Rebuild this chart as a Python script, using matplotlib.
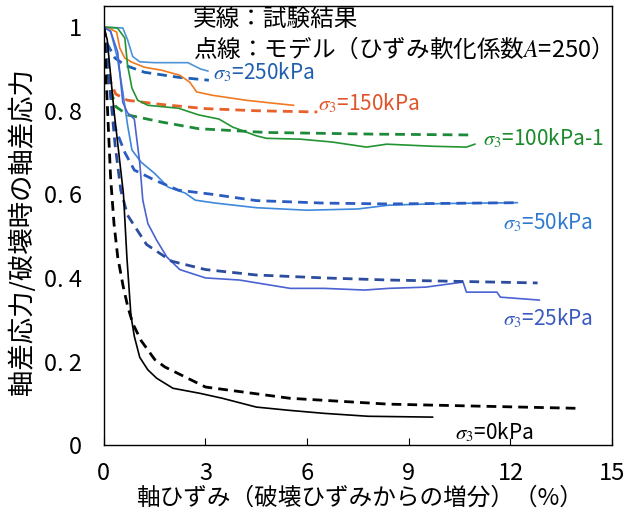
import numpy as np
import matplotlib
matplotlib.use("Agg")
import matplotlib.pyplot as plt

plt.rcParams['font.family'] = ['Noto Sans CJK JP', 'DejaVu Sans']
plt.rcParams['mathtext.fontset'] = 'stix'

# %% data (axial strain %, normalised deviator stress)
x0_test = [0, 0.1, 0.3, 0.58, 0.68, 0.8, 0.9, 1.06, 1.3, 1.56, 2.04, 2.83, 3.5, 4.5, 5.5, 6.5, 7.8, 9.7]
y0_test = [1.0, 0.97, 0.80, 0.60, 0.45, 0.31, 0.26, 0.21, 0.18, 0.16, 0.136, 0.124, 0.112, 0.091, 0.083, 0.076, 0.069, 0.067]
x0_model = [0, 0.1, 0.2, 0.3, 0.41, 0.57, 0.71, 0.86, 1.1, 1.5, 1.8, 3.0, 5.5, 8.4, 14.0]
y0_model = [1.0, 0.82, 0.64, 0.53, 0.45, 0.38, 0.33, 0.29, 0.25, 0.205, 0.187, 0.139, 0.112, 0.098, 0.088]

x25_test = [0, 0.2, 0.41, 0.56, 0.7, 0.9, 1.06, 1.15, 1.3, 1.56, 1.86, 2.24, 3.0, 4.0, 5.5, 6.5, 7.7, 8.4, 9.5, 10.6, 10.7, 11.6, 11.7, 12.85]
y25_test = [1.0, 0.99, 0.94, 0.82, 0.795, 0.78, 0.675, 0.586, 0.53, 0.49, 0.45, 0.42, 0.40, 0.395, 0.375, 0.375, 0.371, 0.375, 0.378, 0.39, 0.366, 0.366, 0.354, 0.347]
x25_model = [0, 0.15, 0.33, 0.5, 0.7, 0.86, 1.26, 2.0, 3.0, 4.5, 6.5, 8.4, 12.8]
y25_model = [1.0, 0.88, 0.72, 0.61, 0.55, 0.53, 0.48, 0.44, 0.42, 0.407, 0.40, 0.395, 0.388]

x50_test = [0, 0.2, 0.4, 0.56, 0.7, 0.83, 1.1, 1.5, 1.9, 2.4, 2.7, 3.3, 4.5, 6.0, 7.5, 8.4, 10.0, 12.2]
y50_test = [1.0, 0.99, 0.926, 0.845, 0.766, 0.706, 0.677, 0.65, 0.617, 0.603, 0.586, 0.579, 0.568, 0.562, 0.565, 0.574, 0.578, 0.58]
x50_model = [0, 0.1, 0.2, 0.33, 0.62, 0.9, 1.5, 2.2, 3.2, 4.5, 6.5, 8.4, 12.2]
y50_model = [1.0, 0.93, 0.84, 0.76, 0.70, 0.658, 0.634, 0.61, 0.60, 0.585, 0.579, 0.577, 0.58]

x100_test = [0, 0.4, 0.62, 0.7, 0.83, 1.0, 1.3, 2.2, 2.8, 3.4, 3.8, 4.5, 4.8, 5.8, 6.75, 7.75, 8.35, 9.7, 10.7, 10.95]
y100_test = [1.0, 0.998, 0.974, 0.909, 0.854, 0.825, 0.813, 0.806, 0.79, 0.78, 0.761, 0.74, 0.734, 0.732, 0.725, 0.713, 0.72, 0.715, 0.713, 0.72]
x100_model = [0, 0.1, 0.2, 0.35, 0.7, 1.7, 2.8, 4.8, 8.0, 10.9]
y100_model = [1.0, 0.90, 0.85, 0.81, 0.79, 0.773, 0.757, 0.748, 0.744, 0.742]

x150_test = [0, 0.1, 0.38, 0.47, 0.62, 0.83, 1.2, 1.7, 2.24, 2.54, 2.74, 3.2, 4.2, 5.0, 5.6]
y150_test = [1.0, 1.0, 0.988, 0.95, 0.926, 0.916, 0.904, 0.897, 0.885, 0.868, 0.845, 0.837, 0.825, 0.818, 0.813]
x150_model = [0, 0.1, 0.2, 0.35, 0.7, 1.7, 3.0, 4.5, 6.3]
y150_model = [1.0, 0.93, 0.87, 0.84, 0.825, 0.815, 0.805, 0.80, 0.797]

x250_test = [0, 0.56, 0.7, 0.85, 1.06, 1.5, 2.48, 2.85, 3.07]
y250_test = [1.0, 0.998, 0.97, 0.93, 0.917, 0.915, 0.915, 0.90, 0.895]
x250_model = [0, 0.1, 0.33, 0.62, 1.2, 2.2, 3.1]
y250_model = [1.0, 0.96, 0.926, 0.909, 0.892, 0.88, 0.873]

# label text, anchor (x, y) and colour for each confining pressure
labels = ['=250kPa', '=150kPa', '=100kPa-1', '=50kPa', '=25kPa', '=0kPa']
label_x = [3.22, 6.32, 11.19, 11.78, 11.78, 10.36]
label_y = [0.892, 0.818, 0.734, 0.533, 0.304, 0.031]

series = [
    (x250_test, y250_test, x250_model, y250_model, '#4f92d6', '#1d5fb2', '#1f5fae'),
    (x150_test, y150_test, x150_model, y150_model, '#f07a22', '#e8602a', '#e0542a'),
    (x100_test, y100_test, x100_model, y100_model, '#239432', '#1d8a3a', '#1a8a2a'),
    (x50_test, y50_test, x50_model, y50_model, '#3f88dc', '#2a5cc2', '#2f7ad0'),
    (x25_test, y25_test, x25_model, y25_model, '#4a62d2', '#2c4c9e', '#3a5ac0'),
    (x0_test, y0_test, x0_model, y0_model, '#000000', '#000000', '#000000'),
]

# %%
fig = plt.figure(figsize=(6.37, 5.2), dpi=100)
ax = fig.add_axes([0.163, 0.144, 0.798, 0.844])

for (xt, yt, xm, ym, ct, cm, cl), lab, lx, ly in zip(series, labels, label_x, label_y):
    ax.plot(xt, yt, '-', color=ct, lw=1.2)
    ax.plot(xm, ym, '--', color=cm, lw=2.0, dashes=(3.5, 2.2))
    ax.text(lx, ly, r'$\sigma_3$' + lab, color=cl, fontsize=15, va='center', ha='left')

ax.text(2.63, 1.017, '実線：試験結果', fontsize=17, va='center', ha='left')
ax.text(2.63, 0.948, '点線：モデル（ひずみ軟化係数$A$=250）', fontsize=17, va='center', ha='left')

ax.set_xlim(0, 15)
ax.set_ylim(0, 1.05)
ax.set_xticks([0, 3, 6, 9, 12, 15])
ax.set_yticks([0, 0.2, 0.4, 0.6, 0.8, 1.0])
ax.set_yticklabels(['0', '0. 2', '0. 4', '0. 6', '0. 8', '1'])
ax.tick_params(axis='x', direction='in', length=5, pad=12, labelsize=17)
ax.tick_params(axis='y', length=0, pad=16, labelsize=17)
for s in ax.spines.values():
    s.set_linewidth(1.0)

fig.text(0.565, 0.042, '軸ひずみ（破壊ひずみからの増分）（%）', fontsize=17, ha='center', va='center')
fig.text(0.035, 0.555, '軸差応力/破壊時の軸差応力', fontsize=19, ha='center', va='center', rotation=90)

fig.savefig('out.png', dpi=100)
